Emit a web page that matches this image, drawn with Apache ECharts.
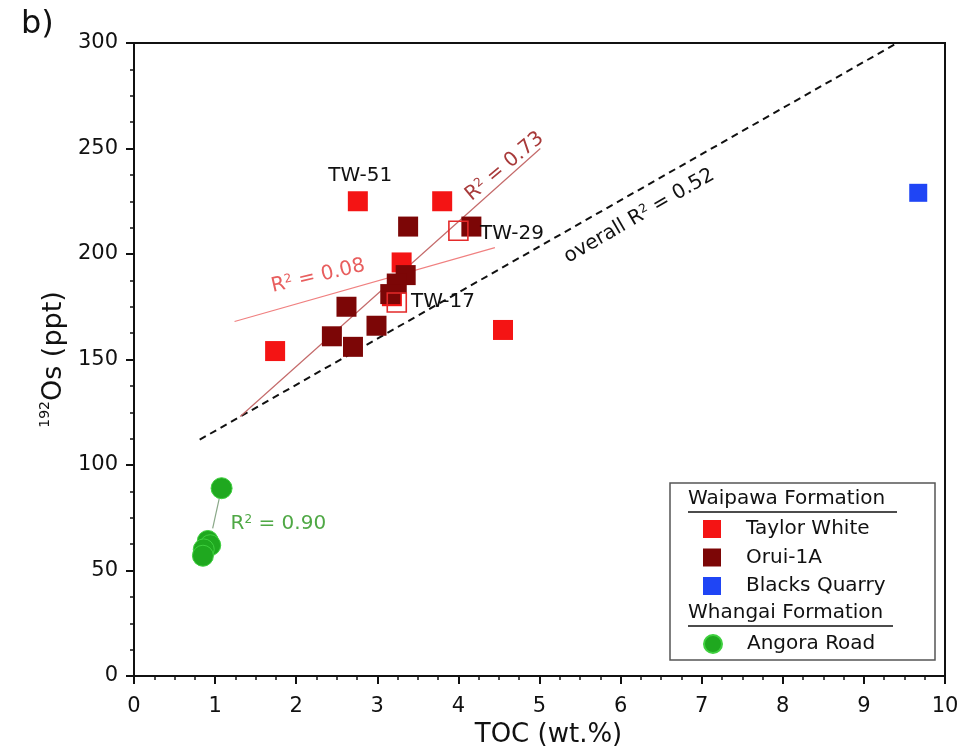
<!DOCTYPE html>
<html>
<head>
<meta charset="utf-8">
<script src="https://cdn.jsdelivr.net/npm/echarts@6/dist/echarts.min.js"></script>
<style>
  html, body { margin: 0; padding: 0; background: #fff; }
  #chart { width: 979px; height: 754px; }
</style>
</head>
<body>
<div id="chart"></div>
<script>
// TOC (wt.%) vs 192Os (ppt)
const taylorWhite = [[1.74, 154], [2.76, 225], [3.80, 225], [4.55, 164], [3.30, 196], [3.18, 180]];
const taylorWhiteMarked = [[4.00, 211], [3.24, 177]]; // TW-29, TW-17
const orui1A = [[3.38, 213], [4.16, 213], [2.62, 175], [2.44, 161], [2.70, 156], [2.99, 166], [3.35, 190], [3.24, 186], [3.16, 181]];
const blacksQuarry = [[9.67, 229]];
const angoraRoad = [[1.08, 89], [0.91, 64], [0.94, 62], [0.86, 60], [0.85, 57]];

// regression lines (end points)
const fitOverall = [[0.81, 112], [9.41, 300]];
const fitOrui = [[1.31, 123], [5.01, 250]];
const fitTaylor = [[1.24, 168], [4.45, 203]];
const fitAngora = [[0.97, 70], [1.05, 84]];

const xTicks = [0, 1, 2, 3, 4, 5, 6, 7, 8, 9, 10];
const yTicks = [0, 50, 100, 150, 200, 250, 300];

// text annotations in data units
const notes = [
  { text: 'TW-51', x: 2.79, y: 237, rotate: 0, color: '#111111' },
  { text: 'TW-29', x: 4.66, y: 209.5, rotate: 0, color: '#111111' },
  { text: 'TW-17', x: 3.81, y: 177.5, rotate: 0, color: '#111111' },
  { text: 'R{s|2} = 0.73', x: 4.57, y: 241.5, rotate: 40, color: '#a83a3a' },
  { text: 'R{s|2} = 0.08', x: 2.27, y: 189.5, rotate: 13, color: '#e85e5e' },
  { text: 'overall R{s|2} = 0.52', x: 6.23, y: 218, rotate: 30, color: '#111111' },
  { text: 'R{s|2} = 0.90', x: 1.78, y: 72, rotate: 0, color: '#4fa845' }
];

const FONT = 'DejaVu Sans';
const chart = echarts.init(document.getElementById('chart'), null, { renderer: 'canvas' });

function fitLine(name, data, color, width, type, z) {
  return {
    name, type: 'line', data, symbol: 'none', silent: true, z,
    lineStyle: { color, width, type }, animation: false
  };
}

const legendText = { fontFamily: FONT, fontSize: 20, color: '#111', padding: [0, 0, 0, 20] };

const option = {
  backgroundColor: '#ffffff',
  animation: false,
  grid: { left: 134, right: 34, top: 43, bottom: 78, show: true, borderColor: '#111', borderWidth: 2 },
  xAxis: {
    type: 'value', min: xTicks[0], max: xTicks[xTicks.length - 1], interval: 1,
    name: 'TOC (wt.%)', nameLocation: 'middle', nameGap: 46,
    nameTextStyle: { fontFamily: FONT, fontSize: 26, color: '#111', padding: [0, 0, 0, 18] },
    axisLine: { show: true, lineStyle: { color: '#111', width: 2 } },
    axisTick: { show: true, length: 8, lineStyle: { color: '#111', width: 2 } },
    minorTick: { show: true, splitNumber: 4, length: 4, lineStyle: { color: '#111', width: 1.5 } },
    splitLine: { show: false },
    axisLabel: { margin: 20, fontFamily: FONT, fontSize: 21, color: '#111' }
  },
  yAxis: {
    type: 'value', min: yTicks[0], max: yTicks[yTicks.length - 1], interval: 50,
    name: '{s|192}{m|Os (ppt)}', nameLocation: 'middle', nameGap: 60, nameRotate: 90,
    nameTextStyle: {
      fontFamily: FONT, fontSize: 27, color: '#111', padding: [0, 0, 0, 0],
      rich: {
        s: { fontFamily: FONT, fontSize: 14, color: '#111', verticalAlign: 'top', lineHeight: 30 },
        m: { fontFamily: FONT, fontSize: 27, color: '#111', lineHeight: 30 }
      }
    },
    axisLine: { show: true, lineStyle: { color: '#111', width: 2 } },
    axisTick: { show: true, length: 8, lineStyle: { color: '#111', width: 2 } },
    minorTick: { show: true, splitNumber: 4, length: 4, lineStyle: { color: '#111', width: 1.5 } },
    splitLine: { show: false },
    axisLabel: { margin: 16, fontFamily: FONT, fontSize: 21, color: '#111' }
  },
  legend: [
    {
      data: ['Taylor White', 'Orui-1A', 'Blacks Quarry'],
      orient: 'vertical', left: 698, top: 514, itemWidth: 18, itemHeight: 18, itemGap: 8.5,
      textStyle: legendText, selectedMode: false, z: 20
    },
    {
      data: ['Angora Road'],
      orient: 'vertical', left: 698, top: 629, itemWidth: 18, itemHeight: 18,
      textStyle: legendText, selectedMode: false, z: 20
    }
  ],
  graphic: [
    { type: 'text', left: 21, top: 9, style: { text: 'b)', font: '32px "DejaVu Sans"', fill: '#111' } },
    { type: 'rect', shape: { x: 670, y: 483, width: 265, height: 177 }, style: { fill: '#fff', stroke: '#555', lineWidth: 1.5 }, z: 1 },
    { type: 'text', x: 688, y: 489, style: { text: 'Waipawa Formation', font: '20px "DejaVu Sans"', fill: '#111' }, z: 2 },
    { type: 'line', shape: { x1: 688, y1: 512, x2: 897, y2: 512 }, style: { stroke: '#111', lineWidth: 1.5 }, z: 2 },
    { type: 'text', x: 688, y: 603, style: { text: 'Whangai Formation', font: '20px "DejaVu Sans"', fill: '#111' }, z: 2 },
    { type: 'line', shape: { x1: 688, y1: 626, x2: 893, y2: 626 }, style: { stroke: '#111', lineWidth: 1.5 }, z: 2 }
  ],
  series: [
    fitLine('fit overall', fitOverall, '#111', 2, [7, 5], 2),
    fitLine('fit Orui-1A', fitOrui, '#c46a6a', 1.2, 'solid', 2),
    fitLine('fit Taylor White', fitTaylor, '#f08080', 1.2, 'solid', 2),
    fitLine('fit Angora Road', fitAngora, '#8aa888', 1.2, 'solid', 2),
    {
      name: 'Taylor White', type: 'scatter', data: taylorWhite, symbol: 'rect', symbolSize: 20, z: 3,
      itemStyle: { color: '#f41414', opacity: 1 }
    },
    {
      name: 'Orui-1A', type: 'scatter', data: orui1A, symbol: 'rect', symbolSize: 20, z: 4,
      itemStyle: { color: '#7c0606', opacity: 1 }
    },
    {
      name: 'TW marked', type: 'scatter', data: taylorWhiteMarked, symbol: 'rect', symbolSize: 19, z: 5,
      itemStyle: { color: 'rgba(255,255,255,0)', borderColor: '#e42a2a', borderWidth: 1.6, opacity: 1 }
    },
    {
      name: 'Blacks Quarry', type: 'scatter', data: blacksQuarry, symbol: 'rect', symbolSize: 18, z: 3,
      itemStyle: { color: '#1f45f5', opacity: 1 }
    },
    {
      name: 'Angora Road', type: 'scatter', data: angoraRoad, symbol: 'circle', symbolSize: 21, z: 3,
      itemStyle: { color: '#1fa81f', borderColor: '#3fd03f', borderWidth: 1, opacity: 1 }
    },
    {
      name: 'notes', type: 'scatter', symbolSize: 0, silent: true, z: 7,
      itemStyle: { opacity: 1 },
      data: notes.map(n => ({
        value: [n.x, n.y],
        label: {
          show: true, position: 'inside', rotate: n.rotate, formatter: n.text,
          fontFamily: FONT, fontSize: 20, color: n.color, textBorderWidth: 0, opacity: 1,
          rich: { s: { fontFamily: FONT, fontSize: 12, color: n.color, verticalAlign: 'top', lineHeight: 20 } }
        }
      }))
    }
  ]
};

chart.setOption(option);
</script>
</body>
</html>
